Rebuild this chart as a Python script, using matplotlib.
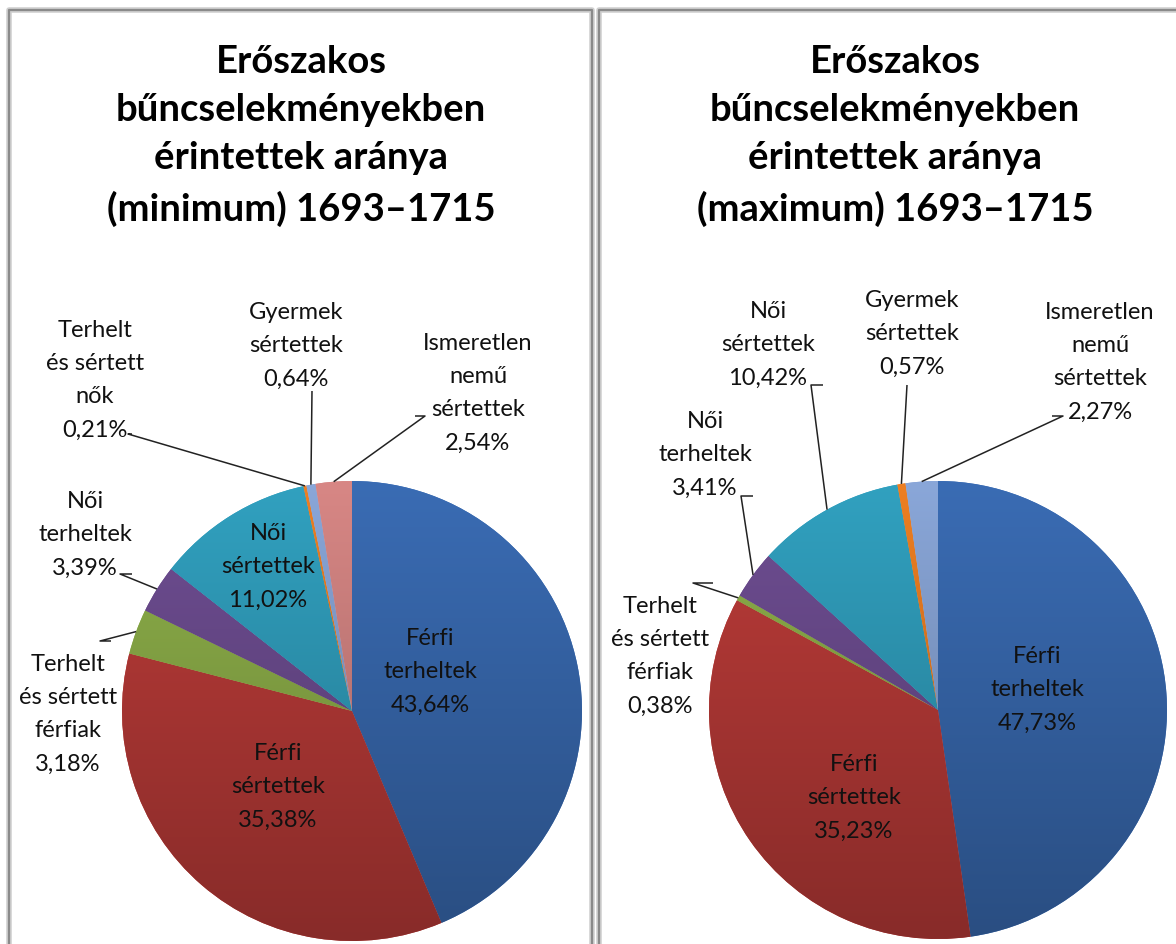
import numpy as np
import matplotlib
matplotlib.use("Agg")
import matplotlib.pyplot as plt
import matplotlib.colors as mcolors

# two pie charts: share of people involved in violent crimes, 1693-1715 (min / max estimate)

plt.rcParams["font.family"] = ["Lato", "DejaVu Sans"]

FIG_W, FIG_H = 1176, 945

# --- data ---
titles = [
    "Erőszakos\nbűncselekményekben\nérintettek aránya\n(minimum) 1693–1715",
    "Erőszakos\nbűncselekményekben\nérintettek aránya\n(maximum) 1693–1715",
]

cats_min = ["Férfi\nterheltek", "Férfi\nsértettek", "Terhelt\nés sértett\nférfiak",
            "Női\nterheltek", "Női\nsértettek", "Terhelt\nés sértett\nnők",
            "Gyermek\nsértettek", "Ismeretlen\nnemű\nsértettek"]
vals_min = [43.64, 35.38, 3.18, 3.39, 11.02, 0.21, 0.64, 2.54]

cats_max = ["Férfi\nterheltek", "Férfi\nsértettek", "Terhelt\nés sértett\nférfiak",
            "Női\nterheltek", "Női\nsértettek",
            "Gyermek\nsértettek", "Ismeretlen\nnemű\nsértettek"]
vals_max = [47.73, 35.23, 0.38, 3.41, 10.42, 0.57, 2.27]

colors_min = ["#3a6cb4", "#bd3c39", "#8fb14a", "#6f4e93", "#31a1c0",
              "#ee7f22", "#8aa7d9", "#d88785"]
colors_max = ["#3a6cb4", "#bd3c39", "#8fb14a", "#6f4e93", "#31a1c0",
              "#ee7f22", "#8aa7d9"]

# --- layout (pixel coords, y measured from top) ---
# label centre positions and leader stubs
layout_min = {
    "center": (352, 712), "radius": 230, "title_x": 301,
    "labels": [
        dict(pos=(430, 672), inside=True),
        dict(pos=(278, 787), inside=True),
        dict(pos=(68, 714), stub=[(100, 642), (111, 642)]),
        dict(pos=(85, 535), stub=[(120, 575), (132, 575)]),
        dict(pos=(268, 567), inside=True),
        dict(pos=(95, 380), stub=[(128, 435), (132, 435)]),
        dict(pos=(296, 346), stub=[(312, 392), (312, 392)]),
        dict(pos=(478, 393), stub=[(425, 417), (415, 417)]),
    ],
}
layout_max = {
    "center": (938, 711), "radius": 229, "title_x": 895,
    "labels": [
        dict(pos=(1037, 690), inside=True),
        dict(pos=(854, 798), inside=True),
        dict(pos=(660, 656), stub=[(693, 584), (713, 584)]),
        dict(pos=(705, 455), stub=[(741, 497), (753, 497)]),
        dict(pos=(768, 345), stub=[(811, 386), (823, 386)]),
        dict(pos=(912, 334), stub=[(907, 386), (907, 386)]),
        dict(pos=(1100, 362), stub=[(1063, 417), (1052, 417)]),
    ],
}


def fmt_pct(v):
    return f"{v:.2f}".replace(".", ",") + "%"


def Y(y):
    return FIG_H - y


def draw_pie(ax, cats, vals, colors, title, lay):
    cx, cy = lay["center"]
    r = lay["radius"]
    wedges, _ = ax.pie(vals, colors=colors, startangle=90, counterclock=False,
                       center=(cx, Y(cy)), radius=r,
                       wedgeprops=dict(linewidth=0), frame=True)

    # excel-like vertical gradient inside every wedge
    for w in wedges:
        base = np.array(mcolors.to_rgb(w.get_facecolor()))
        shade = np.linspace(1.0, 0.72, 256)[:, None, None]
        grad = np.clip(shade * base[None, None, :], 0, 1)
        im = ax.imshow(grad, extent=(cx - r, cx + r, Y(cy) - r, Y(cy) + r),
                       origin="upper", aspect="auto", zorder=2)
        im.set_clip_path(w)

    # labels + leader lines
    for w, cat, v, lab in zip(wedges, cats, vals, lay["labels"]):
        x, y = lab["pos"]
        txt = cat + "\n" + fmt_pct(v)
        ax.text(x, Y(y), txt, ha="center", va="center", fontsize=17,
                color="#111111", linespacing=1.72, zorder=5)
        if lab.get("inside"):
            continue
        mid = np.deg2rad((w.theta1 + w.theta2) / 2)
        ex = cx + r * np.cos(mid)
        ey = Y(cy) + r * np.sin(mid)
        (x0, y0), (x1, y1) = lab["stub"]
        ax.plot([x1, x0, ex], [Y(y1), Y(y0), ey], color="#222222",
                linewidth=1.1, zorder=4, solid_capstyle="butt")

    ax.text(lay["title_x"], Y(136), title, ha="center", va="center",
            fontsize=27.5, fontweight="bold", color="black", linespacing=1.51)


fig = plt.figure(figsize=(FIG_W / 100, FIG_H / 100), dpi=100)
ax = fig.add_axes([0, 0, 1, 1])

draw_pie(ax, cats_min, vals_min, colors_min, titles[0], layout_min)
draw_pie(ax, cats_max, vals_max, colors_max, titles[1], layout_max)

# chart area borders (gray frame with a light shadow)
for xs, ys in [([9, 9, 592, 592], [FIG_H + 5, 11, 11, FIG_H + 5]),
               ([599, 599, FIG_W + 5], [FIG_H + 5, 11, 11])]:
    ax.plot(xs, [Y(v) for v in ys], color="#cfcfcf", linewidth=4, zorder=6)
    ax.plot(xs, [Y(v) for v in ys], color="#8a8a8a", linewidth=1.6, zorder=7)

ax.set_xlim(0, FIG_W)
ax.set_ylim(0, FIG_H)
ax.set_aspect("auto")
ax.axis("off")

fig.savefig("out.png", dpi=100)
